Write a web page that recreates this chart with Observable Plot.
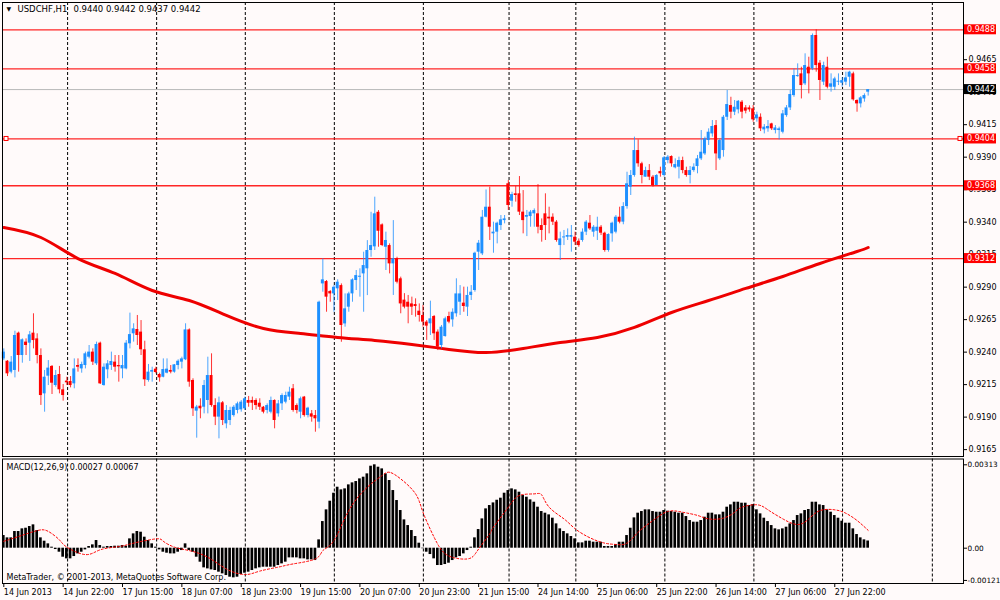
<!DOCTYPE html>
<html><head><meta charset="utf-8">
<script src="https://cdn.jsdelivr.net/npm/d3@7"></script>
<script src="https://cdn.jsdelivr.net/npm/@observablehq/plot@0.6"></script>
<style>
html,body{margin:0;padding:0;background:#fffafa;}
#wrap{position:relative;width:1000px;height:600px;overflow:hidden;background:#fffafa;}
#wrap svg{position:absolute;left:0;}
</style></head><body><div id="wrap"></div>
<script>
// ---- USDCHF H1 candles (bar index 0 = 14 Jun 2013 06:00) ----
const open = [
0.92348,0.92330,0.92246,0.92259,0.92546,0.92374,0.92477,0.92469,0.92546,0.92502,
0.92374,0.92079,0.92215,0.92290,0.92143,0.92228,0.92110,0.92177,0.92174,0.92156,
0.92297,0.92271,0.92297,0.92361,0.92400,0.92310,0.92469,0.92143,0.92264,0.92297,
0.92323,0.92297,0.92271,0.92271,0.92464,0.92541,0.92574,0.92554,0.92418,0.92182,
0.92246,0.92269,0.92228,0.92207,0.92238,0.92259,0.92246,0.92297,0.92323,0.92341,
0.92571,0.92182,0.91946,0.91984,0.91976,0.92028,0.92220,0.91989,0.91900,0.92010,
0.91848,0.91874,0.91912,0.91951,0.91956,0.91964,0.92028,0.92028,0.92028,0.92007,
0.91976,0.91951,0.91938,0.92028,0.91925,0.92002,0.92015,0.92054,0.92118,0.91989,
0.91938,0.92054,0.91912,0.91925,0.91912,0.91861,0.92925,0.92943,0.92866,0.92848,
0.92887,0.92912,0.92617,0.92746,0.92848,0.92951,0.92976,0.93002,0.93041,0.93182,
0.93210,0.93476,0.93379,0.93207,0.93220,0.93079,0.93118,0.92964,0.92800,0.92784,
0.92771,0.92766,0.92715,0.92682,0.92631,0.92618,0.92674,0.92554,0.92451,0.92520,
0.92674,0.92648,0.92695,0.92784,0.92777,0.92746,0.92836,0.92874,0.93169,0.93156,
0.93438,0.93515,0.93310,0.93323,0.93374,0.93412,0.93695,0.93561,0.93618,0.93618,
0.93477,0.93438,0.93443,0.93464,0.93464,0.93374,0.93464,0.93438,0.93438,0.93400,
0.93220,0.93279,0.93284,0.93284,0.93284,0.93253,0.93259,0.93323,0.93392,0.93323,
0.93330,0.93361,0.93315,0.93182,0.93310,0.93323,0.93438,0.93400,0.93520,0.93669,
0.93759,0.93951,0.93849,0.93746,0.93797,0.93746,0.93682,0.93789,0.93759,0.93874,
0.93905,0.93818,0.93823,0.93874,0.93797,0.93759,0.93797,0.93828,0.93887,0.93925,
0.94028,0.94079,0.94143,0.93887,0.93951,0.94207,0.94297,0.94246,0.94264,0.94323,
0.94279,0.94279,0.94272,0.94195,0.94207,0.94110,0.94118,0.94156,0.94105,0.94105,
0.94092,0.94220,0.94279,0.94374,0.94520,0.94541,0.94464,0.94592,0.94579,0.94836,
0.94623,0.94477,0.94592,0.94438,0.94438,0.94477,0.94469,0.94477,0.94515,0.94541,
0.94336,0.94310,0.94348,0.94400];
const high = [
0.92425,0.92335,0.92366,0.92561,0.92554,0.92502,0.92502,0.92559,0.92695,0.92541,
0.92425,0.92259,0.92335,0.92297,0.92259,0.92290,0.92151,0.92207,0.92212,0.92348,
0.92348,0.92323,0.92400,0.92451,0.92425,0.92477,0.92477,0.92310,0.92335,0.92400,
0.92374,0.92374,0.92374,0.92489,0.92700,0.92618,0.92682,0.92643,0.92484,0.92305,
0.92284,0.92284,0.92238,0.92348,0.92348,0.92297,0.92305,0.92341,0.92361,0.92618,
0.92579,0.92195,0.91990,0.92041,0.92182,0.92361,0.92387,0.92041,0.92054,0.92020,
0.91989,0.91976,0.91989,0.92015,0.92028,0.92054,0.92059,0.92054,0.92041,0.92041,
0.91982,0.92002,0.92054,0.92033,0.92028,0.92079,0.92092,0.92130,0.92151,0.92002,
0.92054,0.92059,0.91976,0.91951,0.91951,0.92792,0.93117,0.92951,0.92874,0.92912,
0.92956,0.92925,0.92848,0.92861,0.92964,0.93028,0.93041,0.93169,0.93258,0.93476,
0.93592,0.93489,0.93387,0.93323,0.93233,0.93412,0.93130,0.92977,0.92850,0.92836,
0.92823,0.92810,0.92771,0.92759,0.92643,0.92792,0.92682,0.92571,0.92605,0.92669,
0.92707,0.92733,0.92964,0.92912,0.92900,0.92900,0.92912,0.93169,0.93259,0.93490,
0.93648,0.93669,0.93400,0.93400,0.93451,0.93451,0.93720,0.93630,0.93674,0.93751,
0.93643,0.93490,0.93490,0.93502,0.93689,0.93425,0.93618,0.93515,0.93464,0.93412,
0.93323,0.93336,0.93348,0.93374,0.93323,0.93271,0.93348,0.93412,0.93451,0.93374,
0.93438,0.93374,0.93323,0.93310,0.93400,0.93451,0.93515,0.93550,0.93784,0.93797,
0.94054,0.94033,0.93861,0.93823,0.93843,0.93759,0.93766,0.93823,0.93905,0.93913,
0.93910,0.93887,0.93900,0.93900,0.93823,0.93828,0.93849,0.93913,0.94105,0.94054,
0.94118,0.94182,0.94182,0.94041,0.94220,0.94413,0.94361,0.94336,0.94336,0.94336,
0.94297,0.94295,0.94297,0.94246,0.94233,0.94151,0.94182,0.94161,0.94143,0.94131,
0.94259,0.94297,0.94413,0.94579,0.94618,0.94592,0.94695,0.94669,0.94848,0.94880,
0.94643,0.94631,0.94669,0.94541,0.94515,0.94541,0.94510,0.94554,0.94561,0.94554,
0.94341,0.94366,0.94387,0.94420];
const low = [
0.92335,0.92212,0.92233,0.92202,0.92246,0.92315,0.92374,0.92328,0.92425,0.92310,
0.91990,0.91938,0.92143,0.92074,0.92130,0.92079,0.92023,0.92143,0.92125,0.92118,
0.92246,0.92238,0.92271,0.92348,0.92297,0.92297,0.92151,0.92138,0.92195,0.92259,
0.92246,0.92169,0.92195,0.92264,0.92425,0.92477,0.92451,0.92374,0.92136,0.92169,
0.92169,0.92233,0.92169,0.92202,0.92233,0.92233,0.92238,0.92264,0.92271,0.92335,
0.92130,0.91905,0.91738,0.91887,0.91925,0.91925,0.91976,0.91835,0.91733,0.91835,
0.91810,0.91835,0.91900,0.91925,0.91938,0.91951,0.91976,0.91951,0.91956,0.91951,
0.91925,0.91925,0.91925,0.91810,0.91900,0.91951,0.92002,0.92028,0.91938,0.91925,
0.91887,0.91900,0.91894,0.91861,0.91784,0.91810,0.92861,0.92707,0.92784,0.92707,
0.92797,0.92476,0.92592,0.92707,0.92784,0.92874,0.92823,0.92707,0.92835,0.93130,
0.93182,0.93207,0.93212,0.93028,0.93002,0.92836,0.92925,0.92695,0.92733,0.92618,
0.92682,0.92669,0.92631,0.92592,0.92490,0.92528,0.92490,0.92412,0.92425,0.92515,
0.92618,0.92592,0.92669,0.92682,0.92707,0.92674,0.92797,0.92861,0.93028,0.93143,
0.93433,0.93259,0.93161,0.93233,0.93336,0.93387,0.93490,0.93515,0.93554,0.93451,
0.93310,0.93289,0.93361,0.93361,0.93310,0.93246,0.93259,0.93310,0.93374,0.93246,
0.93105,0.93220,0.93259,0.93169,0.93220,0.93207,0.93246,0.93297,0.93336,0.93284,
0.93259,0.93297,0.93169,0.93169,0.93246,0.93310,0.93387,0.93380,0.93500,0.93605,
0.93746,0.93823,0.93695,0.93746,0.93720,0.93669,0.93682,0.93746,0.93746,0.93849,
0.93823,0.93810,0.93733,0.93772,0.93746,0.93695,0.93784,0.93772,0.93874,0.93913,
0.93990,0.94054,0.93797,0.93874,0.93900,0.94182,0.94195,0.94220,0.94233,0.94195,
0.94233,0.94246,0.94169,0.94169,0.94097,0.94079,0.94092,0.94105,0.94079,0.94033,
0.94079,0.94207,0.94259,0.94361,0.94515,0.94348,0.94451,0.94387,0.94566,0.94554,
0.94336,0.94451,0.94425,0.94400,0.94413,0.94451,0.94438,0.94451,0.94438,0.94331,
0.94246,0.94279,0.94323,0.94370];
const close = [
0.92400,0.92233,0.92323,0.92528,0.92374,0.92495,0.92451,0.92533,0.92489,0.92374,
0.92066,0.92207,0.92277,0.92161,0.92220,0.92110,0.92066,0.92164,0.92143,0.92271,
0.92284,0.92305,0.92387,0.92400,0.92323,0.92459,0.92156,0.92284,0.92310,0.92328,
0.92284,0.92287,0.92297,0.92469,0.92535,0.92579,0.92528,0.92418,0.92187,0.92246,
0.92259,0.92243,0.92202,0.92266,0.92269,0.92246,0.92302,0.92330,0.92348,0.92571,
0.92169,0.91964,0.91977,0.91964,0.92143,0.92220,0.91989,0.91900,0.92010,0.91874,
0.91951,0.91951,0.91976,0.92002,0.92015,0.92041,0.92007,0.92007,0.91989,0.91976,
0.91938,0.91989,0.92028,0.91874,0.92002,0.92066,0.92066,0.92092,0.91951,0.91951,
0.92041,0.91912,0.91969,0.91900,0.91887,0.92784,0.92956,0.92823,0.92848,0.92899,
0.92938,0.92605,0.92733,0.92848,0.92956,0.92989,0.92984,0.93066,0.93182,0.93220,
0.93464,0.93330,0.93220,0.93259,0.93079,0.93118,0.92938,0.92771,0.92746,0.92746,
0.92746,0.92751,0.92682,0.92631,0.92600,0.92656,0.92541,0.92438,0.92592,0.92656,
0.92631,0.92707,0.92848,0.92848,0.92751,0.92836,0.92861,0.93161,0.93238,0.93438,
0.93515,0.93361,0.93323,0.93392,0.93418,0.93425,0.93528,0.93612,0.93605,0.93477,
0.93412,0.93451,0.93477,0.93489,0.93361,0.93336,0.93374,0.93425,0.93400,0.93259,
0.93271,0.93284,0.93297,0.93297,0.93246,0.93220,0.93323,0.93400,0.93348,0.93361,
0.93361,0.93315,0.93182,0.93305,0.93392,0.93438,0.93400,0.93520,0.93695,0.93759,
0.93951,0.93849,0.93759,0.93797,0.93746,0.93682,0.93759,0.93772,0.93895,0.93900,
0.93849,0.93843,0.93874,0.93797,0.93759,0.93797,0.93823,0.93887,0.93938,0.94041,
0.94092,0.94136,0.93925,0.94028,0.94207,0.94305,0.94246,0.94284,0.94330,0.94246,
0.94254,0.94264,0.94187,0.94225,0.94118,0.94131,0.94136,0.94118,0.94125,0.94118,
0.94233,0.94279,0.94382,0.94528,0.94528,0.94451,0.94605,0.94541,0.94836,0.94605,
0.94490,0.94605,0.94438,0.94464,0.94502,0.94482,0.94489,0.94510,0.94554,0.94341,
0.94310,0.94356,0.94374,0.94420];

// ---- moving average (sampled at bar indices) ----
const maIdx = [0,10,20,30,40,50,60,70,80,90,100,110,120,130,140,150,160,170,180,190,200,210,220,230,233];
const maVal = [0.93359,0.93282,0.93120,0.93005,0.92874,0.92797,0.92682,0.92582,0.92543,0.92513,0.92490,0.92459,0.92421,0.92397,0.92428,0.92474,0.92513,0.92590,0.92705,0.92797,0.92890,0.92982,0.93082,0.93174,0.93205];

// ---- MACD(12,26,9) histogram, in units of 0.00001 ----
const macdHistE5 = [
47.5,38.8,38.8,62.6,62.6,72.6,75,81.3,87.6,66.3,
38.8,26.3,16.3,3.8,-5,-15,-33.8,-40,-40,-31.3,
-21.3,-15,-6.3,6.3,12.5,28.8,10,3.8,6.3,6.3,
7.5,7.5,10,7.5,35,53.8,62.6,60,41.3,28.8,
16.3,3.8,-6.3,-15,-18.8,-21.3,-21.3,-15,-8.8,16.3,
-8.8,-15,-33.8,-52.5,-73.8,-77.6,-81.3,-83.8,-90,-96.3,
-102.6,-108.8,-111.3,-108.8,-98.8,-93.8,-90,-83.8,-77.6,-73.8,
-71.3,-71.3,-71.3,-71.3,-65,-58.8,-52.5,-36.3,-36.3,-36.3,
-40,-40,-43.8,-43.8,-46.3,31.3,100,143.9,176.4,206.4,
228.9,218.9,222.7,237.7,245.2,250.2,260.2,266.5,279,307.7,
313,304,297.7,279,254,216.4,178.9,141.4,106.3,85,
66.3,43.8,18.8,-2,-15,-23.8,-40,-65,-65,-61.3,
-56.3,-46.3,-36.3,-31.3,-21.3,-8.8,3.8,38.8,70,110,
147.6,160.1,170,180,187.7,206.4,216.4,222.7,218.9,210.2,
197.7,191.4,181.4,172.6,153.9,137.6,131.4,125.1,112.6,91.3,
72.6,62.6,53.8,43.8,35,20,20,26.3,26.3,22.5,
22.5,22.5,6.3,6.3,6.3,13.8,22.5,22.5,47.5,75,
113.8,131.4,137.6,143.9,143.9,137.6,135.1,135.1,141.4,138.9,
137.6,135.1,131.4,131.4,118.8,103.8,97.6,97.6,103.8,116.3,
131.4,131.4,125.1,125.1,135.1,153.9,162.6,172.6,172.6,168.9,
168.9,160.1,163.9,143.9,128.9,112.6,100,85,72.6,68.8,
72.6,78.8,91.3,103.8,122.6,128.9,141.4,145.1,172.6,172.6,
162.6,160.1,143.9,135.1,122.6,112.6,101.3,93.8,93.8,72.6,
51.3,38.8,31.3,27];
// signal line (sampled), units of 0.00001
const sigIdx = [0,4,9,12,15,17,22,26,31,35,41,43,46,50,55,60,65,69,74,78,84,86,89,93,98,102,104,107,111,113,116,119,123,126,128,131,132,136,139,143,145,147,151,154,158,162,165,168,171,175,179,183,187,190,194,197,199,203,206,210,214,217,220,224,227,230,233];
const sigValE5 = [26,44,66,63,31,4,-24,-6,6,19,35,26,4,-9,-34,-78,-99,-86,-71,-59,-40,-9,29,141,229,273,285,260,204,135,41,-21,-40,-36,-3,54,79,154,198,204,200,154,110,73,39,19,14,19,60,104,138,135,123,110,113,135,154,163,144,110,89,110,141,144,131,104,67];

// ---- levels, ticks, labels ----
const levels = [0.9488, 0.9458, 0.9404, 0.9368, 0.9312];
const selectedLevel = 0.9404;
const currentPrice = 0.9442;
const priceTicks = [0.9465,0.9440,0.9415,0.9390,0.9365,0.9340,0.9315,0.9290,0.9265,0.9240,0.9215,0.9190,0.9165];
const macdTicks = [0.00313, 0, -0.00121];
const gridIdx = [17.2,41.2,65.1,89.1,113.1,136.2,154.2,178.2,202.2,226.1,250.3];
const xTickIdx = [0,16,32,48,64,80,96,112,128,144,160,176,192,208,224];
const xTickLabels = ["14 Jun 2013","14 Jun 22:00","17 Jun 15:00","18 Jun 07:00","18 Jun 23:00","19 Jun 15:00","20 Jun 07:00","20 Jun 23:00","21 Jun 15:00","24 Jun 14:00","25 Jun 06:00","25 Jun 22:00","26 Jun 14:00","27 Jun 06:00","27 Jun 22:00"];
const titleSymbol = "USDCHF,H1";
const titleOHLC = "0.9440 0.9442 0.9437 0.9442";
const macdTitle = "MACD(12,26,9) 0.00027 0.00067";
const copyright = "MetaTrader, \u00A9 2001-2013, MetaQuotes Software Corp.";

// ---- build tables ----
const bars = open.map((o, i) => ({i, o, h: high[i], l: low[i], c: close[i]}));
const upBars = bars.filter(d => d.c >= d.o);
const downBars = bars.filter(d => d.c < d.o);
const ma = maIdx.map((i, k) => ({i, v: maVal[k]}));
const hist = macdHistE5.map((v, i) => ({i, v: v * 1e-5}));
const sig = sigIdx.map((i, k) => ({i, v: sigValE5[k] * 1e-5}));

const BLUE = "#1e90ff", RED = "#ff0000";
const FONT = '"DejaVu Sans", Verdana, sans-serif';
const xDomain = [-0.35, 258.7];
const bodyY1 = d => Math.min(d.o, d.c);
const bodyY2 = d => Math.max(d.o, d.c, Math.min(d.o, d.c) + 0.00007);

function priceBoxes(index, scales, values, dim) {
  const g = d3.create("svg:g").attr("text-anchor", "start");
  const x0 = dim.width - dim.marginRight;
  const items = levels.map(v => ({v, fill: RED})).concat([{v: currentPrice, fill: "#000"}]);
  for (const it of items) {
    const y = scales.y(it.v);
    g.append("rect").attr("x", x0 + 1).attr("y", y - 5).attr("width", 32).attr("height", 10).attr("fill", it.fill);
    g.append("text").attr("x", x0 + 4).attr("y", y).attr("dy", "0.35em").attr("text-anchor", "start")
      .attr("fill", "#fff").attr("font-size", 8).attr("font-family", FONT).text(it.v.toFixed(4));
  }
  const ys = scales.y(selectedLevel);
  for (const xs of [dim.marginLeft + 2, x0 - 5]) {
    g.append("rect").attr("x", xs).attr("y", ys - 2).attr("width", 4).attr("height", 4)
      .attr("fill", "#fff").attr("stroke", RED).attr("stroke-width", 1);
  }
  return g.node();
}

const main = Plot.plot({
  width: 1000, height: 458,
  marginLeft: 2, marginRight: 37, marginTop: 2, marginBottom: 2,
  x: {domain: xDomain, axis: null},
  y: {domain: [0.91597, 0.95090]},
  style: {background: "#fffafa", fontFamily: FONT, fontSize: "8px", color: "#000", overflow: "visible"},
  marks: [
    Plot.ruleX(gridIdx, {stroke: "#000", strokeDasharray: "3,2", strokeWidth: 1}),
    Plot.ruleY([currentPrice], {stroke: "#b8b8b8", strokeWidth: 1}),
    Plot.ruleY(levels, {stroke: RED, strokeWidth: 1.3, strokeOpacity: 0.85}),
    Plot.line(ma, {x: "i", y: "v", stroke: "#ee0000", strokeWidth: 3, curve: "natural"}),
    Plot.ruleX(upBars, {x: "i", y1: "l", y2: "h", stroke: BLUE, strokeOpacity: 0.8}),
    Plot.ruleX(downBars, {x: "i", y1: "l", y2: "h", stroke: RED, strokeOpacity: 0.8}),
    Plot.rect(upBars, {x1: d => d.i - 0.4, x2: d => d.i + 0.4, y1: bodyY1, y2: bodyY2, fill: BLUE}),
    Plot.rect(downBars, {x1: d => d.i - 0.4, x2: d => d.i + 0.4, y1: bodyY1, y2: bodyY2, fill: RED}),
    Plot.frame({stroke: "#000"}),
    Plot.axisY(priceTicks, {anchor: "right", tickSize: 3, tickPadding: 2, tickFormat: d => d.toFixed(4), label: null}),
    priceBoxes,
    Plot.text(["\u25BC"], {frameAnchor: "top-left", dx: 4, dy: 7, fontSize: 6, textAnchor: "start", lineAnchor: "middle", fill: "#000"}),
    Plot.text([titleSymbol], {frameAnchor: "top-left", dx: 15, dy: 7, fontSize: 8.5, textAnchor: "start", lineAnchor: "middle", fill: "#000"}),
    Plot.text([titleOHLC], {frameAnchor: "top-left", dx: 71, dy: 7, fontSize: 8.5, textAnchor: "start", lineAnchor: "middle", fill: "#000"})
  ]
});

const macd = Plot.plot({
  width: 1000, height: 143,
  marginLeft: 2, marginRight: 37, marginTop: 1.5, marginBottom: 17,
  x: {domain: xDomain},
  y: {domain: [-0.001325, 0.003348]},
  style: {background: "#fffafa", fontFamily: FONT, fontSize: "8px", color: "#000", overflow: "visible"},
  marks: [
    Plot.ruleX(gridIdx, {stroke: "#000", strokeDasharray: "3,2", strokeWidth: 1}),
    Plot.rect(hist, {x1: d => d.i - 0.36, x2: d => d.i + 0.36, y1: 0, y2: "v", fill: "#000"}),
    Plot.line(sig, {x: "i", y: "v", stroke: RED, strokeWidth: 1, strokeDasharray: "2,2", curve: "natural"}),
    Plot.frame({stroke: "#000"}),
    Plot.axisY(macdTicks, {anchor: "right", tickSize: 3, tickPadding: 1, fontSize: 7.3, tickFormat: v => v === 0 ? "0.00" : v.toFixed(5), label: null}),
    Plot.axisX(xTickIdx, {anchor: "bottom", tickSize: 4, tickPadding: 2, textAnchor: "start", tickFormat: d => xTickLabels[xTickIdx.indexOf(d)], label: null}),
    Plot.text([macdTitle], {frameAnchor: "top-left", dx: 4, dy: 8, textAnchor: "start", lineAnchor: "middle", fill: "#000"}),
    Plot.text([copyright], {frameAnchor: "bottom-left", dx: 4, dy: -6, textAnchor: "start", lineAnchor: "middle", fill: "#000"})
  ]
});

const wrap = document.getElementById("wrap");
main.style.top = "0px";
macd.style.top = "457px";
wrap.appendChild(main);
wrap.appendChild(macd);
</script></body></html>
